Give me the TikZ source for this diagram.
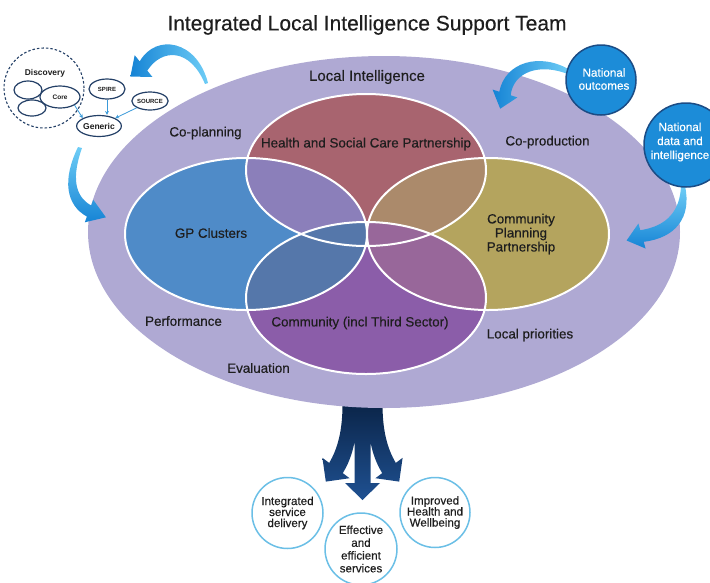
\documentclass[tikz,border=0pt]{standalone}
\usepackage{fontspec}
\setmainfont{Liberation Sans}
\newfontfamily\mediumface[FakeBold=0.35]{Liberation Sans}
\usetikzlibrary{arrows.meta,shapes.geometric}
\definecolor{lavender}{HTML}{AFA9D3}
\definecolor{hsc}{HTML}{A8646F}
\definecolor{gp}{HTML}{4F8BC8}
\definecolor{cpp}{HTML}{B4A45E}
\definecolor{comm}{HTML}{8B5DA9}
\definecolor{hscgp}{HTML}{8B7FBA}
\definecolor{gpcomm}{HTML}{5577AA}
\definecolor{commcpp}{HTML}{98679A}
\definecolor{hsccpp}{HTML}{AB8A6B}
\definecolor{hsccomm}{HTML}{A48BC2}
\definecolor{tripleL}{HTML}{9BA0CB}
\definecolor{tripleR}{HTML}{B04EB4}
\definecolor{navy}{HTML}{233F66}
\definecolor{natblue}{HTML}{1C8CD8}
\definecolor{natedge}{HTML}{1B4C85}
\definecolor{arrowlight}{HTML}{6ECDF6}
\definecolor{arrowdeep}{HTML}{1684D5}
\definecolor{outcomeedge}{HTML}{6BBFE6}
\definecolor{thinblue}{HTML}{3A9AD9}
\definecolor{trunktop}{HTML}{0A2346}
\definecolor{trunkbot}{HTML}{1F5192}
\definecolor{ink}{HTML}{1E1E1E}

\begin{document}
\begin{tikzpicture}[x=1pt,y=-1pt,
  every node/.style={inner sep=0pt, text=ink},
  title/.style={font=\mediumface\fontsize{21}{25}\selectfont},
  ringlabel/.style={font=\mediumface\fontsize{13.4}{16}\selectfont},
  vennlabel/.style={font=\mediumface\fontsize{13.4}{14}\selectfont, align=center},
  srcell/.style={ellipse, draw=navy, line width=1.2pt, fill=white,
    font=\bfseries\fontsize{6}{7}\selectfont},
  natcircle/.style={circle, draw=natedge, line width=1.5pt, fill=natblue},
  nattext/.style={text=white, align=center, font=\mediumface\fontsize{11.7}{13}\selectfont},
  outcome/.style={circle, draw=outcomeedge, line width=1.5pt, fill=white,
    align=center, font=\mediumface\fontsize{11.6}{11}\selectfont},
  thinarrow/.style={draw=thinblue, line width=0.8pt, -{Stealth[length=4pt,width=4pt]}},
  bigarrow/.style={draw=none},
  rim/.style={draw=white, line width=2pt}
]
\useasboundingbox (0,0) rectangle (710,582);

% three-pronged trunk leaving the outer ring
\shade[top color=trunktop, bottom color=trunkbot]
  % middle prong
  (354.5,400) -- (370.5,400) -- (370.5,483) -- (380,483) -- (362.5,500) -- (345,483) -- (354.5,483) -- cycle
  % left prong
  (342.5,400) -- (357,400) -- (357,412) .. controls (357,440) and (352,458) .. (342.8,473.1)
     -- (349.6,478.2) -- (325.8,481.6) -- (322.4,457.8) -- (329.2,462.9)
     .. controls (338,448) and (342.5,430) .. (342.5,404) -- cycle
  % right prong
  (368,400) -- (382.5,400) -- (382.5,404) .. controls (382.5,430) and (387,448) .. (395.8,462.9)
     -- (402.6,457.8) -- (399.2,481.6) -- (375.4,478.2) -- (382.2,473.1)
     .. controls (373,458) and (368,440) .. (368,412) -- cycle;

% outer ring
\coordinate (ring) at (384,232);
\fill[lavender] (ring) ellipse [x radius=296, y radius=176];

% partnership ellipses
\coordinate (cH) at (366,170);
\coordinate (cG) at (246,234);
\coordinate (cP) at (488,234);
\coordinate (cC) at (366,298);
\fill[hsc]  (cH) ellipse [x radius=120, y radius=76];
\fill[gp]   (cG) ellipse [x radius=121, y radius=76];
\fill[cpp]  (cP) ellipse [x radius=121, y radius=76];
\fill[comm] (cC) ellipse [x radius=120, y radius=76];
\begin{scope}
  \clip (cH) ellipse [x radius=120, y radius=76];
  \fill[hscgp]   (cG) ellipse [x radius=121, y radius=76];
  \fill[hsccpp]  (cP) ellipse [x radius=121, y radius=76];
  \fill[hsccomm] (cC) ellipse [x radius=120, y radius=76];
  \clip (cC) ellipse [x radius=120, y radius=76];
  \fill[tripleL] (cG) ellipse [x radius=121, y radius=76];
  \fill[tripleR] (cP) ellipse [x radius=121, y radius=76];
\end{scope}
\begin{scope}
  \clip (cC) ellipse [x radius=120, y radius=76];
  \fill[gpcomm]  (cG) ellipse [x radius=121, y radius=76];
  \fill[commcpp] (cP) ellipse [x radius=121, y radius=76];
\end{scope}
\draw[rim] (cH) ellipse [x radius=120, y radius=76];
\draw[rim] (cG) ellipse [x radius=121, y radius=76];
\draw[rim] (cP) ellipse [x radius=121, y radius=76];
\draw[rim] (cC) ellipse [x radius=120, y radius=76];

% labels
\node[title] (title) at (367,25) {Integrated Local Intelligence Support Team};
\node[font=\mediumface\fontsize{15}{18}\selectfont] (li) at (367,77) {Local Intelligence};
\node[ringlabel] (copl) at (205.5,133) {Co-planning};
\node[ringlabel] (coprod) at (547.5,142) {Co-production};
\node[ringlabel] (perf) at (183.5,321) {Performance};
\node[ringlabel] (locpri) at (530,335) {Local priorities};
\node[ringlabel] (eval) at (258.5,368) {Evaluation};
\node[vennlabel] (hsclbl) at (366,144) {Health and Social Care Partnership};
\node[vennlabel] (gplbl) at (211,233) {GP Clusters};
\node[vennlabel] (cpplbl) at (521,234) {Community\\Planning\\Partnership};
\node[vennlabel] (commlbl) at (360,323) {Community (incl Third Sector)};

% data sources
\node[circle, draw=navy, line width=1.1pt, dash pattern=on 2.5pt off 2pt, minimum size=80] (discovery) at (44,88) {};
\node[font=\bfseries\fontsize{8.4}{10}\selectfont] (disclbl) at (45,73) {Discovery};
\node[srcell, minimum width=28, minimum height=18] (blankA) at (28,90) {};
\node[srcell, minimum width=28, minimum height=16] (blankB) at (32,108) {};
\node[srcell, minimum width=40, minimum height=22, font=\bfseries\fontsize{6.5}{7}\selectfont] (core) at (60,97) {Core};
\node[srcell, minimum width=36, minimum height=20] (spire) at (107,89) {SPIRE};
\node[srcell, minimum width=36, minimum height=18] (source) at (150,101) {SOURCE};
\node[srcell, minimum width=44, minimum height=21, font=\bfseries\fontsize{8.5}{10}\selectfont] (generic) at (99,126) {Generic};
\draw[thinarrow] (core.south east) -- (generic.north west);
\draw[thinarrow] (spire.south) -- (spire.south |- generic.north);
\draw[thinarrow] (source.south west) -- (generic.north east);

% curved blue arrows
\shade[bigarrow, left color=arrowdeep, right color=arrowlight]
  (208,83) .. controls (197,40) and (156,33) .. (139.7,61.4)
  -- (134.7,55.2) -- (130.4,76.7) -- (152.3,76.8) -- (147.3,70.6)
  .. controls (162,48) and (190,48) .. (205,84) -- cycle;
\shade[bigarrow, top color=arrowlight, bottom color=arrowdeep]
  (78,147) .. controls (62,180) and (66,205) .. (86.9,216.6)
  -- (84.8,222.3) -- (105.9,217.3) -- (93.2,199.7) -- (91.1,205.4)
  .. controls (74,196) and (72,176) .. (82,148) -- cycle;
\shade[bigarrow, left color=arrowdeep, right color=arrowlight]
  (570,70) .. controls (540,52) and (505,62) .. (499.3,91.7)
  -- (492.6,89.6) -- (500.2,108.7) -- (517.4,97.4) -- (510.7,95.3)
  .. controls (513,72) and (540,62) .. (570,75) -- cycle;
\shade[bigarrow, top color=arrowlight, bottom color=arrowdeep]
  (685,186) .. controls (692,218) and (675,238) .. (643.7,241.8)
  -- (645.6,248.5) -- (626.6,240.5) -- (638.4,223.5) -- (640.3,230.2)
  .. controls (668,226) and (680,210) .. (681,186) -- cycle;

% national inputs
\node[natcircle, minimum size=70] (natout) at (601,80) {};
\node[nattext] (natouttext) at (604,79) {National\\outcomes};
\node[natcircle, minimum size=84] (natdata) at (686,145) {};
\node[nattext, font=\mediumface\fontsize{11.7}{14}\selectfont] (natdatatext) at (680,142) {National\\data and\\intelligence};

% outcomes
\node[outcome, minimum size=71] (integ) at (287.5,513) {Integrated\\service\\delivery};
\node[outcome, minimum size=72, font=\mediumface\fontsize{11.6}{12.8}\selectfont] (effect) at (361,549) {Effective\\and\\efficient\\services};
\node[outcome, minimum size=70] (improv) at (435,512.5) {Improved\\Health and\\Wellbeing};
\end{tikzpicture}
\end{document}
